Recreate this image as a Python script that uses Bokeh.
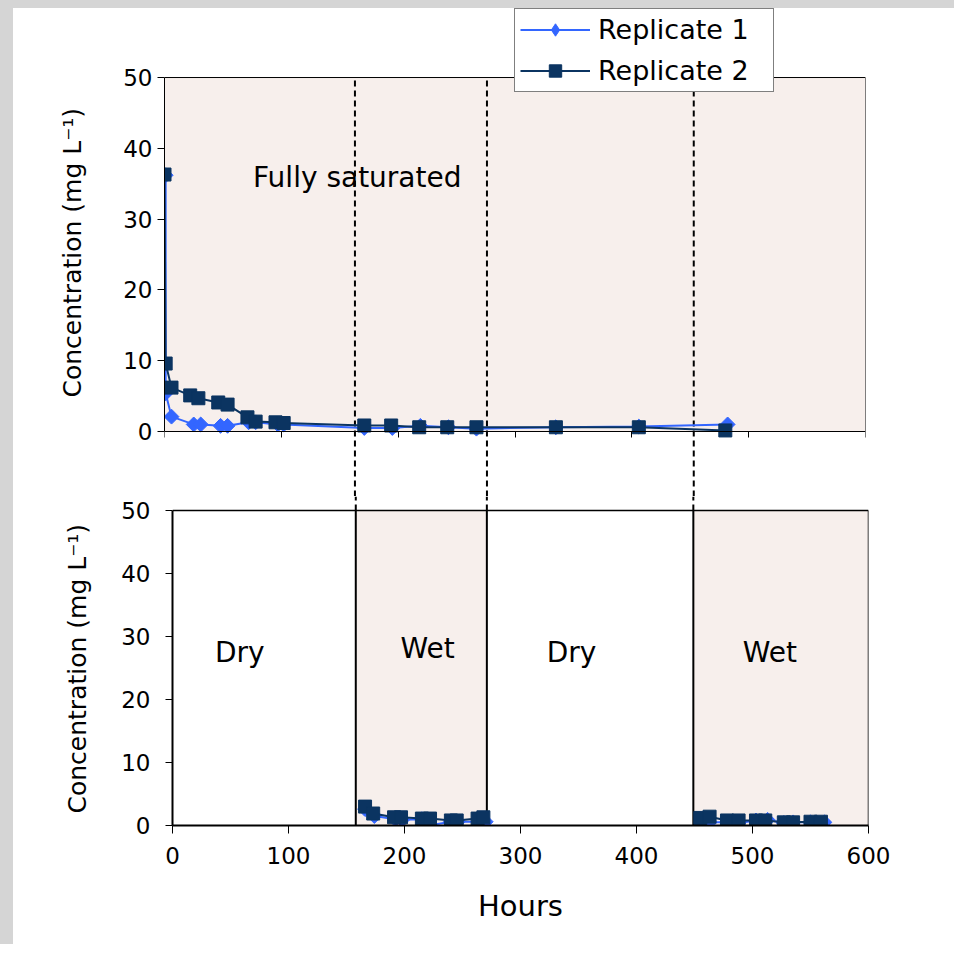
import numpy as np
from bokeh.plotting import figure
from bokeh.layouts import column
from bokeh.models import Range1d, FixedTicker, Legend, LegendItem, Title
from bokeh.core.properties import value
from bokeh.embed import file_html
from bokeh.resources import INLINE

# ---------------- data ----------------
# Upper panel: fully saturated
sat_hours_rep1 = [1, 1, 6, 25, 31, 48, 54, 72, 78, 97, 102, 171, 195, 219, 243, 267, 335, 406, 482]
sat_conc_rep1 = [36.2, 5.4, 2.1, 1.0, 1.0, 0.8, 0.8, 1.3, 1.3, 1.0, 1.0, 0.5, 0.5, 0.8, 0.6, 0.4, 0.6, 0.7, 1.0]
sat_hours_rep2 = [0, 1, 6, 22, 29, 46, 54, 71, 78, 95, 102, 171, 194, 218, 242, 267, 335, 406, 480]
sat_conc_rep2 = [36.3, 9.6, 6.2, 5.1, 4.7, 4.1, 3.8, 2.0, 1.4, 1.3, 1.2, 0.85, 0.85, 0.6, 0.6, 0.6, 0.6, 0.6, 0.15]

# Lower panel: wet/dry cycles, first wet period
wet1_hours_rep1 = [166, 174, 192, 198, 215, 221, 240, 246, 264, 270]
wet1_conc_rep1 = [2.6, 1.5, 1.0, 0.9, 1.0, 0.0, 0.6, 0.6, 0.6, 0.6]
wet1_hours_rep2 = [166, 173, 191, 197, 215, 222, 240, 245, 263, 268]
wet1_conc_rep2 = [3.0, 1.9, 1.3, 1.3, 1.1, 1.1, 0.8, 0.8, 1.1, 1.3]
# second wet period
wet2_hours_rep1 = [456, 463, 478, 488, 503, 513, 527, 535, 550, 562]
wet2_conc_rep1 = [0.4, 0.5, 0.5, 0.4, 0.8, 0.9, 0.4, 0.5, 0.5, 0.5]
wet2_hours_rep2 = [455, 463, 478, 488, 503, 511, 527, 535, 550, 559]
wet2_conc_rep2 = [1.2, 1.4, 0.8, 0.8, 0.8, 0.8, 0.5, 0.5, 0.6, 0.6]

# phase boundaries (hours) as placed in each panel
boundaries_upper = [163, 276, 453]
boundaries_lower = [158, 271, 449]
wet_start = [158, 449]
wet_end = [271, 600]
phase_labels = ["Dry", "Wet", "Dry", "Wet"]

x_ticks = [0, 100, 200, 300, 400, 500, 600]
y_ticks = [0, 10, 20, 30, 40, 50]
series_names = ["Replicate 1", "Replicate 2"]

# ---------------- styles ----------------
FONT = "DejaVu Sans"
C_REP1 = "#3366FF"
C_REP2 = "#0B3461"
SHADE = "#F7EFEC"
YLABEL = "Concentration (mg L\u207b\u00b9)"
X0, X1 = x_ticks[0], x_ticks[-1]
Y0, Y1 = y_ticks[0], y_ticks[-1]
TOP_YRANGE = (-9.18, 59.75)   # room below (connectors) and above (legend) the upper box
BOT_YRANGE = (0, 52.22)       # room above the lower box (connectors)


def style_y(p, standoff, line_width, label_offset, label_standoff):
    ax = p.yaxis[0]
    ax.ticker = FixedTicker(ticks=y_ticks)
    ax.bounds = (Y0, Y1)
    ax.major_label_text_font = FONT
    ax.major_label_text_font_size = "23px"
    ax.major_label_text_color = "black"
    ax.major_tick_out = 7
    ax.major_tick_in = 0
    ax.minor_tick_out = 0
    ax.minor_tick_in = 0
    ax.major_label_standoff = standoff
    ax.axis_line_width = line_width
    ax.axis_line_color = "black"
    ax.major_tick_line_color = "black"
    ax.axis_label = None
    p.add_layout(Title(text=YLABEL, align="left", offset=label_offset, text_font=FONT,
                       text_font_size="25px", text_font_style="normal", text_color="black",
                       standoff=label_standoff), "left")


# ---------------- upper panel ----------------
top = figure(width=941, height=488, x_range=Range1d(X0, X1), y_range=Range1d(*TOP_YRANGE),
             output_backend="svg", toolbar_location=None, frame_align=False,
             min_border_left=151, min_border_right=89, min_border_top=0, min_border_bottom=0,
             background_fill_color="white", border_fill_color="white",
             outline_line_color=None, margin=(8, 0, 0, 13))
top.xgrid.grid_line_color = None
top.ygrid.grid_line_color = None
xa = top.xaxis[0]
xa.fixed_location = Y0
xa.ticker = FixedTicker(ticks=x_ticks)
xa.major_label_overrides = {t: "" for t in x_ticks}
xa.major_label_text_font_size = "1px"
xa.major_label_standoff = 0
xa.major_tick_out = 6
xa.major_tick_in = 0
xa.minor_tick_out = 0
xa.minor_tick_in = 0
xa.axis_line_color = "black"
style_y(top, 5, 1, 99, 67)

# shaded axes box + its top/right border
top.quad(left=[X0], right=[X1], bottom=[Y0], top=[Y1], fill_color=SHADE, line_color=None)
top.segment(x0=[X0, X1], x1=[X1, X1], y0=[Y1, Y0], y1=[Y1, Y1], line_color="black", line_width=1)
top.segment(x0=boundaries_upper, x1=boundaries_upper, y0=TOP_YRANGE[0], y1=Y1,
            line_color="black", line_width=2, line_dash="6 4")

l1 = top.line(sat_hours_rep1, sat_conc_rep1, line_color=C_REP1, line_width=2)
top.scatter(sat_hours_rep1, sat_conc_rep1, marker="square", angle=np.pi / 4, size=10.5,
            fill_color=C_REP1, line_color=C_REP1)
# legend swatch for replicate 1 (diamond)
m1 = top.scatter([np.nan], [np.nan], marker="diamond", size=16, fill_color=C_REP1, line_color=C_REP1)
l2 = top.line(sat_hours_rep2, sat_conc_rep2, line_color=C_REP2, line_width=2)
m2 = top.scatter(sat_hours_rep2, sat_conc_rep2, marker="square", size=13,
                 fill_color=C_REP2, line_color=C_REP2)

top.text(x=[165], y=[35.9], text=["Fully saturated"], text_font=value(FONT),
         text_font_size="28px", text_align="center", text_baseline="middle", text_color="black")

legend = Legend(items=[LegendItem(label=series_names[0], renderers=[l1, m1]),
                       LegendItem(label=series_names[1], renderers=[l2, m2])],
                location=(350, 339 + 65), orientation="vertical",
                label_text_font=FONT, label_text_font_size="27px", label_text_color="black",
                glyph_width=70, glyph_height=31, label_height=31, label_width=170,
                label_standoff=8, spacing=10, padding=5, margin=0,
                border_line_color="black", border_line_width=1,
                background_fill_color="white", background_fill_alpha=1.0)
top.add_layout(legend)

# ---------------- lower panel ----------------
bot = figure(width=941, height=448, x_range=Range1d(X0, X1), y_range=Range1d(*BOT_YRANGE),
             output_backend="svg", toolbar_location=None, frame_align=False,
             min_border_left=159, min_border_right=86, min_border_top=0, min_border_bottom=119,
             background_fill_color="white", border_fill_color="white",
             outline_line_color=None, margin=(0, 0, 0, 13))
bot.xgrid.grid_line_color = None
bot.ygrid.grid_line_color = None
xb = bot.xaxis[0]
xb.ticker = FixedTicker(ticks=x_ticks)
xb.major_label_text_font = FONT
xb.major_label_text_font_size = "23px"
xb.major_label_text_color = "black"
xb.major_label_standoff = 13
xb.major_tick_out = 8
xb.major_tick_in = 0
xb.minor_tick_out = 0
xb.minor_tick_in = 0
xb.axis_line_width = 2
xb.axis_line_color = "black"
xb.axis_label = "Hours"
xb.axis_label_text_font = FONT
xb.axis_label_text_font_size = "29px"
xb.axis_label_text_font_style = "normal"
xb.axis_label_text_color = "black"
xb.axis_label_standoff = 22
style_y(bot, 15, 2, 12, 53)

bot.quad(left=wet_start, right=wet_end, bottom=Y0, top=Y1, fill_color=SHADE, line_color=None)
bot.segment(x0=[X0, X1], x1=[X1, X1], y0=[Y1, Y0], y1=[Y1, Y1], line_color="black", line_width=1.5)
bot.segment(x0=boundaries_lower, x1=boundaries_lower, y0=Y0, y1=Y1,
            line_color="black", line_width=2)
# dashed connectors running up from the lower box toward the upper panel
bot.segment(x0=boundaries_lower, x1=boundaries_lower, y0=Y1, y1=BOT_YRANGE[1],
            line_color="black", line_width=2, line_dash="6 4")

for hrs, conc in ((wet1_hours_rep1, wet1_conc_rep1), (wet2_hours_rep1, wet2_conc_rep1)):
    bot.line(hrs, conc, line_color=C_REP1, line_width=2)
    bot.scatter(hrs, conc, marker="square", angle=np.pi / 4, size=10.5,
                fill_color=C_REP1, line_color=C_REP1)
for hrs, conc in ((wet1_hours_rep2, wet1_conc_rep2), (wet2_hours_rep2, wet2_conc_rep2)):
    bot.line(hrs, conc, line_color=C_REP2, line_width=2)
    bot.scatter(hrs, conc, marker="square", size=13, fill_color=C_REP2, line_color=C_REP2)

bot.text(x=[58, 220, 344, 515], y=[27.5, 28.1, 27.5, 27.5], text=phase_labels,
         text_font=value(FONT), text_font_size="28px", text_align="center",
         text_baseline="middle", text_color="black")

layout = column(top, bot, spacing=0,
                styles={"background-color": "#ffffff", "overflow": "hidden",
                        "box-shadow": "inset 13px 8px 0 0 #d5d5d5"})

html = file_html(layout, INLINE)
html = html.replace("<head>", "<head><style>html, body { margin: 0; padding: 0; "
                    "overflow: hidden; background: #ffffff; }</style>", 1)
open("out.html", "w").write(html)
